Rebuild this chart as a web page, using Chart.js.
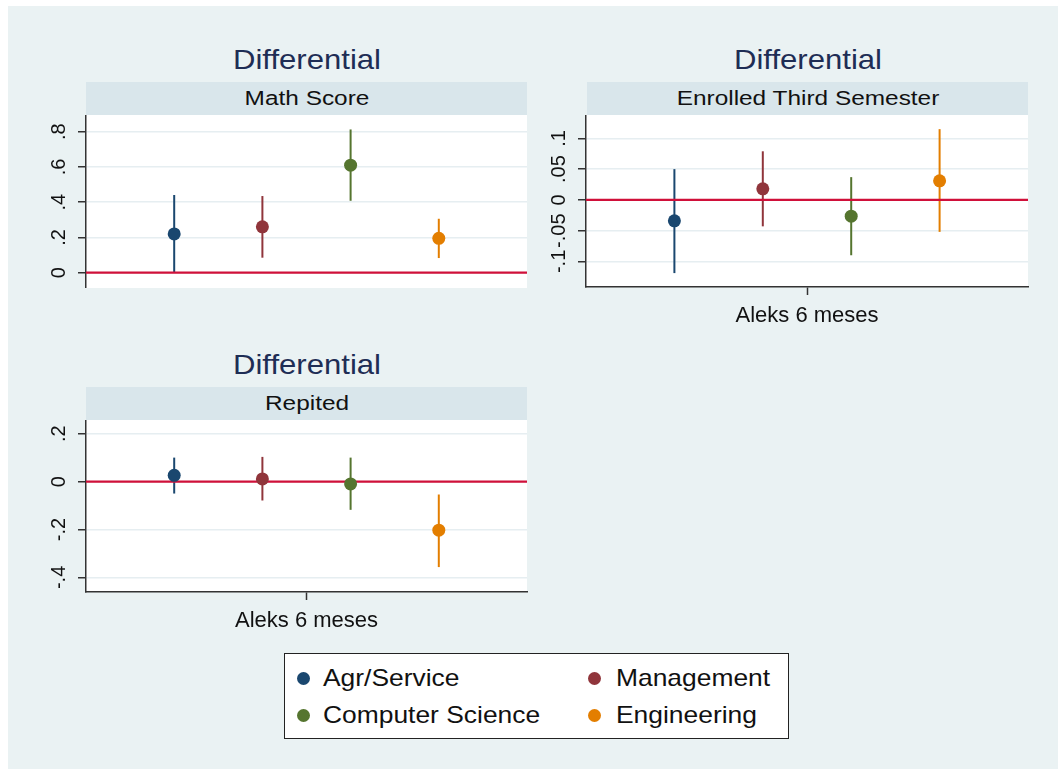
<!DOCTYPE html>
<html>
<head>
<meta charset="utf-8">
<script src="https://cdn.jsdelivr.net/npm/chart.js@4"></script>
<style>
  body { margin: 0; background: #fff; font-family: "Liberation Sans", Arial, sans-serif; }
  #page { position: relative; width: 1058px; height: 769px; overflow: hidden; }
  #bg { position: absolute; left: 8px; top: 6px; right: 0; bottom: 0; background: #eaf2f3; }
  .title, .strip-text, .leg-text { position: absolute; white-space: nowrap; }
  .title { font-size: 28px; color: #1e2d55; transform: translate(-50%, -50%) scaleX(1.11); }
  .strip { position: absolute; background: #d9e6eb; }
  .strip-text { font-size: 20px; color: #111; transform: translate(-50%, -50%) scaleX(1.22); }
  canvas { position: absolute; }
  #legend { position: absolute; left: 284px; top: 653px; width: 503px; height: 84px; background: #fff; border: 1px solid #222; }
  .leg-dot { position: absolute; width: 13px; height: 13px; border-radius: 50%; }
  .leg-text { font-size: 24px; color: #111; transform-origin: left center; transform: translateY(-50%) scaleX(1.1); }
</style>
</head>
<body>
<div id="page">
  <div id="bg"></div>
  <canvas id="c1" width="520" height="173" style="left:20px; top:115px;"></canvas>
  <canvas id="c2" width="520" height="225" style="left:520px; top:115px;"></canvas>
  <canvas id="c3" width="520" height="225" style="left:20px; top:420px;"></canvas>
  <div id="legend"></div>
</div>
<script>
// categories and series
const categories = ['Agr/Service', 'Management', 'Computer Science', 'Engineering'];
const colors = ['#1a476f', '#90353b', '#55752f', '#e37e00'];
const panelTitle = 'Differential';
const panelNames = ['Math Score', 'Enrolled Third Semester', 'Repited'];
const xLabel = 'Aleks 6 meses';

// Math Score: estimate and 95% interval
const mathEst = [0.22, 0.26, 0.61, 0.195];
const mathLo = [0.0, 0.085, 0.408, 0.083];
const mathHi = [0.441, 0.435, 0.813, 0.306];
const mathTicks = [0, 0.2, 0.4, 0.6, 0.8];

// Enrolled Third Semester
const enrEst = [-0.034, 0.018, -0.0265, 0.031];
const enrLo = [-0.119, -0.043, -0.090, -0.052];
const enrHi = [0.050, 0.079, 0.037, 0.115];
const enrTicks = [-0.1, -0.05, 0, 0.05, 0.1];

// Repited
const repEst = [0.026, 0.011, -0.010, -0.203];
const repLo = [-0.050, -0.079, -0.118, -0.357];
const repHi = [0.100, 0.103, 0.100, -0.054];
const repTicks = [-0.4, -0.2, 0, 0.2];

// Stata style labels: .2 instead of 0.2
function fmt(v) {
    if (v === 0) return '0';
    return String(v).replace('0.', '.');
}

// white plot region and rotated y tick labels
const panelPlugin = {
    id: 'panelPlugin',
    beforeDraw(chart) {
        const { ctx, chartArea: a } = chart;
        ctx.save();
        ctx.fillStyle = '#ffffff';
        ctx.fillRect(a.left, a.top, a.right - a.left, a.bottom - a.top);
        ctx.restore();
    },
    afterDraw(chart) {
        const { ctx, chartArea: a } = chart;
        const y = chart.scales.y;
        ctx.save();
        ctx.font = '20px "Liberation Sans", Arial, sans-serif';
        ctx.fillStyle = '#111';
        ctx.textAlign = 'center';
        ctx.textBaseline = 'middle';
        y.ticks.forEach(t => {
            ctx.save();
            ctx.translate(a.left - 27, y.getPixelForValue(t.value));
            ctx.rotate(-Math.PI / 2);
            ctx.fillText(fmt(t.value), 0, 0);
            ctx.restore();
        });
        ctx.restore();
    }
};

function makePanel(id, est, lo, hi, ticks, yMin, yMax, showX, padRight) {
    const datasets = [];
    // reference line at zero
    datasets.push({
        data: [{ x: 0, y: 0 }, { x: 5, y: 0 }],
        showLine: true, borderColor: '#d0103a', borderWidth: 2.2,
        pointRadius: 0, order: 2
    });
    categories.forEach((c, i) => {
        datasets.push({
            data: [{ x: i + 1, y: lo[i] }, { x: i + 1, y: hi[i] }],
            showLine: true, borderColor: colors[i], borderWidth: 2,
            pointRadius: 0, order: 3
        });
        datasets.push({
            label: c,
            data: [{ x: i + 1, y: est[i] }],
            pointRadius: 6.5, backgroundColor: colors[i], borderWidth: 0,
            order: 1
        });
    });

    new Chart(document.getElementById(id), {
        type: 'scatter',
        data: { datasets },
        options: {
            responsive: false,
            animation: false,
            layout: { autoPadding: false, padding: { left: 0, right: padRight, top: 0, bottom: 0 } },
            plugins: { legend: { display: false }, tooltip: { enabled: false } },
            scales: {
                x: {
                    type: 'linear', min: 0, max: 5,
                    display: showX,
                    afterBuildTicks: s => { s.ticks = [{ value: 2.5 }]; },
                    afterFit: s => { s.height = showX ? 53 : 0; },
                    grid: { drawOnChartArea: false, tickLength: 8, tickColor: '#333', tickWidth: 1.5 },
                    border: { color: '#333', width: 1.5 },
                    ticks: {
                        callback: () => xLabel,
                        maxRotation: 0, padding: 8,
                        color: '#111',
                        font: { family: '"Liberation Sans", Arial, sans-serif', size: 22 }
                    }
                },
                y: {
                    type: 'linear', min: yMin, max: yMax,
                    afterBuildTicks: s => { s.ticks = ticks.map(v => ({ value: v })); },
                    afterFit: s => { s.width = 66; },
                    grid: { color: '#e6eef1', lineWidth: 1.5, tickLength: 8, tickColor: '#333', tickWidth: 1.5 },
                    border: { color: '#333', width: 1.5 },
                    ticks: { display: false }
                }
            }
        },
        plugins: [panelPlugin]
    });
}

makePanel('c1', mathEst, mathLo, mathHi, mathTicks, -0.087, 0.895, false, 13);
makePanel('c2', enrEst, enrLo, enrHi, enrTicks, -0.1416, 0.138, true, 12);
makePanel('c3', repEst, repLo, repHi, repTicks, -0.461, 0.257, true, 13);

// titles and strips
const page = document.getElementById('page');
const boxes = [
    { left: 86, right: 527, top: 82 },
    { left: 587, right: 1028, top: 82 },
    { left: 86, right: 527, top: 387 }
];
boxes.forEach((b, i) => {
    const cx = (b.left + b.right) / 2;
    const strip = document.createElement('div');
    strip.className = 'strip';
    strip.style.cssText = `left:${b.left}px; top:${b.top}px; width:${b.right - b.left}px; height:33px;`;
    page.appendChild(strip);
    const st = document.createElement('div');
    st.className = 'strip-text';
    st.textContent = panelNames[i];
    st.style.left = cx + 'px';
    st.style.top = (b.top + 16) + 'px';
    page.appendChild(st);
    const t = document.createElement('div');
    t.className = 'title';
    t.textContent = panelTitle;
    t.style.left = cx + 'px';
    t.style.top = (b.top - 22) + 'px';
    page.appendChild(t);
});

// legend, two columns
const legend = document.getElementById('legend');
categories.forEach((c, i) => {
    const col = i % 2, row = Math.floor(i / 2);
    const dotX = col === 0 ? 12 : 303;
    const textX = col === 0 ? 38 : 331;
    const cy = row === 0 ? 24 : 61;
    const dot = document.createElement('div');
    dot.className = 'leg-dot';
    dot.style.cssText = `left:${dotX}px; top:${cy - 6.5}px; background:${colors[i]};`;
    legend.appendChild(dot);
    const tx = document.createElement('div');
    tx.className = 'leg-text';
    tx.textContent = c;
    tx.style.left = textX + 'px';
    tx.style.top = cy + 'px';
    legend.appendChild(tx);
});
</script>
</body>
</html>
